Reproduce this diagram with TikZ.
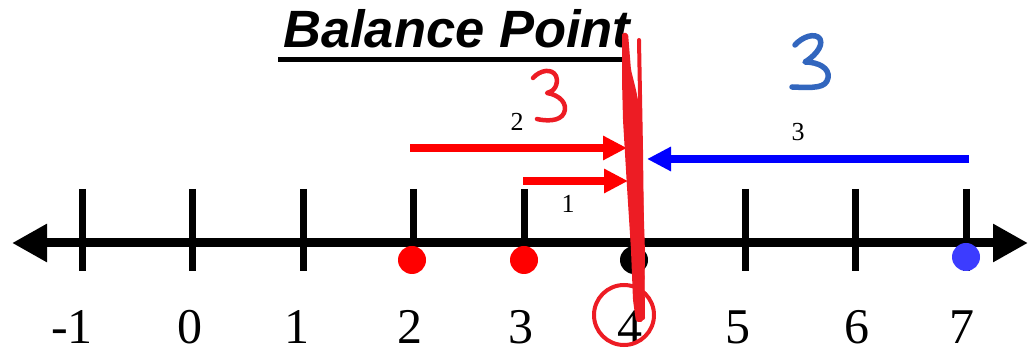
\documentclass[tikz,border=0pt]{standalone}
\usepackage{fontspec}
\setmainfont{Liberation Serif}
\newfontfamily\titlefont{Liberation Sans}
\usetikzlibrary{arrows.meta}
\definecolor{penred}{RGB}{237,28,36}
\definecolor{penblue}{RGB}{50,102,190}
\definecolor{dotblue}{RGB}{60,60,255}
\definecolor{arrred}{RGB}{255,0,0}
\definecolor{arrblue}{RGB}{0,0,255}
\begin{document}
\begin{tikzpicture}[x=1pt,y=-1pt,
  axis/.style={line width=9pt,{Triangle[length=35pt,width=36pt]}-{Triangle[length=35pt,width=36pt]}},
  tick/.style={line width=7pt},
  numlabel/.style={anchor=base,inner sep=0pt,font=\fontsize{50}{50}\selectfont},
  smalllabel/.style={anchor=base,inner sep=0pt,font=\fontsize{26}{26}\selectfont},
  dot/.style={circle,inner sep=0pt,minimum size=28pt},
  vecarrow/.style={line width=8pt,-{Triangle[length=24pt,width=23pt]}},
  handpen/.style={line cap=round,line join=round}
]
\useasboundingbox (0,0) rectangle (1029,352);
% title
\node[anchor=base west,inner sep=0pt,font=\titlefont\bfseries\itshape\fontsize{52.5}{52.5}\selectfont] (title) at (283,48) {Balance Point};
\draw[line width=5pt] (278,60) -- (623,60);
% axis
\coordinate (L) at (12,243);
\coordinate (R) at (1028,243);
\draw[axis] (L) -- (R);
\foreach \v/\x/\lx in {-1/82/72,0/192/190,1/303/297,2/413/410,3/524/521,4/634/630,5/745/738,6/855/857,7/966/962}{
  \draw[tick] (\x,189) -- (\x,271);
  \node[numlabel] (n\v) at (\lx,344) {\v};
}
% dots
\node[dot,fill=arrred] (d2) at (412,260) {};
\node[dot,fill=arrred] (d3) at (524,260) {};
\node[dot,fill=black] (d4) at (634,260) {};
\node[dot,fill=dotblue] (d7) at (966,257) {};
% arrows
\coordinate (a2s) at (410,148);
\coordinate (a2e) at (627,148);
\coordinate (a1s) at (523,181);
\coordinate (a1e) at (628,181);
\coordinate (a3s) at (969,159);
\coordinate (a3e) at (647,159);
\draw[vecarrow,arrred] (a2s) -- (a2e);
\draw[vecarrow,arrred] (a1s) -- (a1e);
\draw[vecarrow,arrblue] (a3s) -- (a3e);
\node[smalllabel] (l2) at (517,131) {2};
\node[smalllabel] (l1) at (568,213) {1};
\node[smalllabel] (l3) at (798,141) {3};
% red circle around 4
\draw[penred,line width=4pt] (624,315) circle (30);
% red vertical stroke
\fill[penred,rounded corners=2pt] (622,33) -- (628,33) -- (631,70) -- (636,90) -- (642,120) -- (643,190)
  -- (645,253) -- (644,305) -- (643,322) -- (636,322) -- (633,300) -- (631,250) -- (627,187)
  -- (623,120) -- (622,80) -- cycle;
\draw[penred,handpen,line width=4pt] (639,40) -- (641,150) -- (643,318);
% handwritten red 3
\draw[penred,handpen,line width=4.5pt] (533,78) .. controls (540,70) and (552,68) .. (556,76)
  .. controls (559,84) and (554,92) .. (547,93)
  .. controls (560,95) and (568,104) .. (564,113)
  .. controls (560,122) and (545,121) .. (537,119);
% handwritten blue 3
\draw[penblue,handpen,line width=5.5pt] (795,45) .. controls (802,37) and (815,32) .. (820,39)
  .. controls (824,47) and (812,58) .. (805,62)
  .. controls (818,62) and (830,68) .. (828,78)
  .. controls (826,88) and (815,88) .. (792,87);
\end{tikzpicture}
\end{document}
